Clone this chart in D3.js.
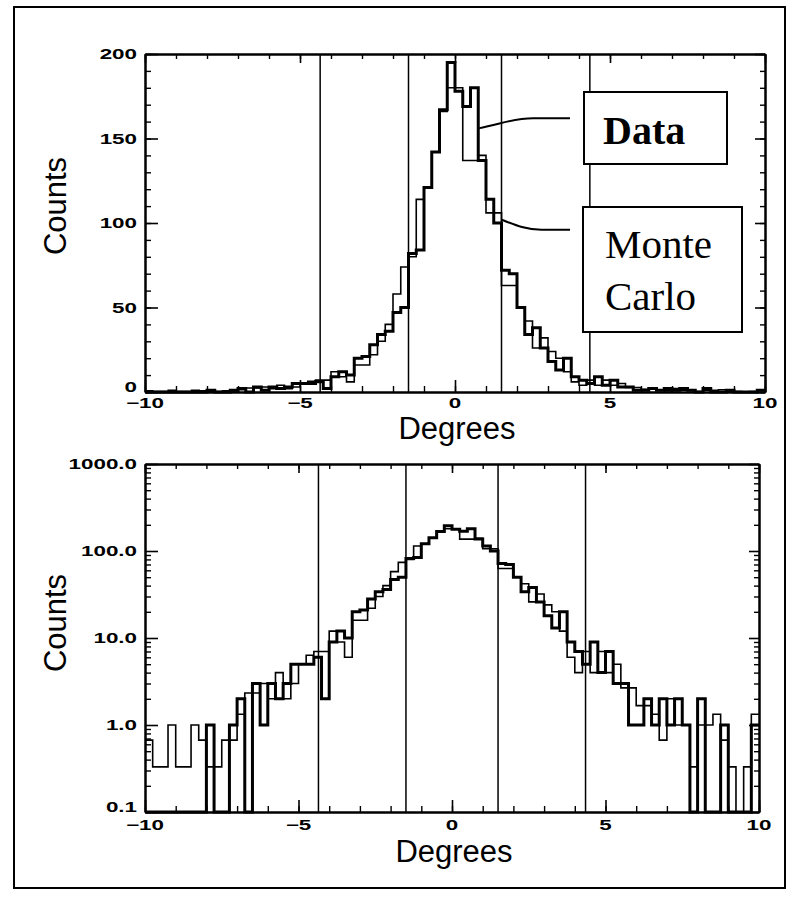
<!DOCTYPE html>
<html>
<head>
<meta charset="utf-8">
<script src="https://cdn.jsdelivr.net/npm/d3@7"></script>
<style>
  html, body { margin: 0; padding: 0; background: #fff; }
  svg { display: block; }
</style>
</head>
<body>
<div id="chart"></div>
<script>
// histogram bins: 0.25 degree wide, starting at -10
const binStart = -10;
const binWidth = 0.25;

const dataCounts = [
  0, 0, 0, 0, 0, 0, 0, 0, 1, 0,
  0, 1, 2, 0, 3, 1, 3, 2, 3, 5,
  5, 5, 6, 2, 9, 12, 10, 20, 21, 28,
  34, 36, 47, 50, 82, 84, 121, 142, 167, 195,
  178, 169, 180, 137, 114, 100, 72, 70, 50, 34,
  38, 26, 18, 13, 20, 9, 7, 5, 9, 4,
  7, 3, 3, 1, 1, 2, 1, 2, 1, 2,
  1, 0, 2, 0, 0, 1, 0, 0, 0, 1,
];

const monteCarloCounts = [
  0.67, 0.33, 0.33, 1, 0.33, 0.33, 1, 0.67, 0.33, 0.33,
  0.67, 0.67, 1.33, 2.33, 2.33, 3, 2, 4, 2, 3,
  5, 6.33, 7, 7, 12, 9, 6, 16, 16, 22,
  30, 40, 58, 74, 80, 114, 121, 142, 166, 180,
  180, 137, 137, 140, 106, 106, 63, 63, 50, 42,
  26, 32, 24, 20, 12, 6, 4, 7, 4, 7,
  4, 5, 2.67, 2.67, 1.67, 1.67, 1.33, 0.67, 2, 1,
  1, 0.33, 1, 1, 1.33, 0.67, 0.33, 0, 0.33, 1.33,
];

const cutLines = [-4.35, -1.5, 1.5, 4.35];
const degreeTicks = [-10, -5, 0, 5, 10];
const linearTicks = [0, 50, 100, 150, 200];
const logTicks = [0.1, 1, 10, 100, 1000];
const logTickLabels = ['0.1', '1.0', '10.0', '100.0', '1000.0'];
const legendLabels = [['Data'], ['Monte', 'Carlo']];

const totalWidth = 791;
const totalHeight = 900;
const tickFont = 'Liberation Sans, Arial, sans-serif';

const svg = d3
  .select('#chart')
  .append('svg')
  .attr('width', totalWidth)
  .attr('height', totalHeight);

// outer frame of the scanned figure
svg
  .append('rect')
  .attr('x', 14)
  .attr('y', 7)
  .attr('width', 771)
  .attr('height', 881)
  .attr('fill', 'none')
  .attr('stroke', '#000')
  .attr('stroke-width', 2);

const stepPoints = (values) =>
  values
    .map((v, i) => [binStart + i * binWidth, v])
    .concat([[binStart + values.length * binWidth, values[values.length - 1]]]);

// stretched tick label, like the old vector plotting font
const tickLabel = (g, x, y, text, anchor) =>
  g
    .append('text')
    .attr('transform', `translate(${x},${y}) scale(1.6,1)`)
    .attr('text-anchor', anchor)
    .attr('dy', '0.36em')
    .attr('font-family', tickFont)
    .attr('font-weight', 'bold')
    .attr('font-size', 14)
    .text(text);

const drawPanel = (opts) => {
  const { xScale, yScale, yMajor, yMinor, yLabels, floor, xLabelY, titleY, countsY } = opts;
  const [left, right] = xScale.range();
  const [bottom, top] = yScale.range();
  const g = svg.append('g');

  const axisStyle = (sel, width) =>
    sel.call((a) => a.selectAll('.tick line').attr('stroke-width', width))
      .call((a) => a.select('.domain').attr('stroke-width', 2));

  const xMinor = d3.range(-10, 11, 1);

  // bottom + top axes (ticks point inward)
  g.append('g').attr('transform', `translate(0,${bottom})`)
    .call(d3.axisBottom(xScale).tickValues(degreeTicks).tickSize(-12).tickSizeOuter(0).tickFormat(''))
    .call((a) => axisStyle(a, 1.6));
  g.append('g').attr('transform', `translate(0,${bottom})`)
    .call(d3.axisBottom(xScale).tickValues(xMinor).tickSize(-6).tickSizeOuter(0).tickFormat(''))
    .call((a) => axisStyle(a, 1.4));
  g.append('g').attr('transform', `translate(0,${top})`)
    .call(d3.axisTop(xScale).tickValues(degreeTicks).tickSize(-9).tickSizeOuter(0).tickFormat(''))
    .call((a) => axisStyle(a, 1.6));
  g.append('g').attr('transform', `translate(0,${top})`)
    .call(d3.axisTop(xScale).tickValues(xMinor).tickSize(-5).tickSizeOuter(0).tickFormat(''))
    .call((a) => axisStyle(a, 1.4));

  // left + right axes
  g.append('g').attr('transform', `translate(${left},0)`)
    .call(d3.axisLeft(yScale).tickValues(yMajor).tickSize(-13).tickSizeOuter(0).tickFormat(''))
    .call((a) => axisStyle(a, 1.6));
  g.append('g').attr('transform', `translate(${left},0)`)
    .call(d3.axisLeft(yScale).tickValues(yMinor).tickSize(-6).tickSizeOuter(0).tickFormat(''))
    .call((a) => axisStyle(a, 1.4));
  g.append('g').attr('transform', `translate(${right},0)`)
    .call(d3.axisRight(yScale).tickValues(yMajor).tickSize(-10).tickSizeOuter(0).tickFormat(''))
    .call((a) => axisStyle(a, 1.6));
  g.append('g').attr('transform', `translate(${right},0)`)
    .call(d3.axisRight(yScale).tickValues(yMinor).tickSize(-5).tickSizeOuter(0).tickFormat(''))
    .call((a) => axisStyle(a, 1.4));

  // tick labels (lowest one nudged up, clear of the x labels)
  yMajor.forEach((v, i) =>
    tickLabel(g, left - 8, yScale(v) - (i === 0 ? 5 : 0), yLabels[i], 'end')
  );
  degreeTicks.forEach((v) =>
    tickLabel(g, xScale(v), xLabelY, d3.format('')(v).replace('-', '\u2212'), 'middle')
  );

  // cut lines
  g.selectAll('.cut')
    .data(cutLines)
    .join('line')
    .attr('x1', (d) => xScale(d))
    .attr('x2', (d) => xScale(d))
    .attr('y1', top)
    .attr('y2', bottom)
    .attr('stroke', '#000')
    .attr('stroke-width', 1.5);

  // histograms
  const line = d3
    .line()
    .x((d) => xScale(d[0]))
    .y((d) => yScale(Math.max(d[1], floor)))
    .curve(d3.curveStepAfter);

  g.append('path')
    .attr('d', line(stepPoints(monteCarloCounts)))
    .attr('fill', 'none')
    .attr('stroke', '#000')
    .attr('stroke-width', 1.6);

  g.append('path')
    .attr('d', line(stepPoints(dataCounts)))
    .attr('fill', 'none')
    .attr('stroke', '#000')
    .attr('stroke-width', 3);

  // axis titles
  g.append('text')
    .attr('x', (left + right) / 2 + 2)
    .attr('y', titleY)
    .attr('text-anchor', 'middle')
    .attr('font-family', tickFont)
    .attr('font-size', 31)
    .text('Degrees');

  g.append('text')
    .attr('transform', `translate(66,${countsY}) rotate(-90)`)
    .attr('text-anchor', 'middle')
    .attr('font-family', tickFont)
    .attr('font-size', 31)
    .text('Counts');

  return g;
};

// top panel: linear counts
const xTop = d3.scaleLinear().domain([-10, 10]).range([145, 765]);
const yTop = d3.scaleLinear().domain([0, 200]).range([392, 54]);
drawPanel({
  xScale: xTop,
  yScale: yTop,
  yMajor: linearTicks,
  yMinor: d3.range(0, 201, 10),
  yLabels: linearTicks.map(String),
  floor: 0,
  xLabelY: 403,
  titleY: 439,
  countsY: 206,
});

// bottom panel: log counts
const xBottom = d3.scaleLinear().domain([-10, 10]).range([145, 759]);
const yBottom = d3.scaleLog().domain([0.1, 1000]).range([812, 464]);
const logMinor = [];
[0.1, 1, 10, 100].forEach((dec) => d3.range(2, 10).forEach((k) => logMinor.push(dec * k)));
drawPanel({
  xScale: xBottom,
  yScale: yBottom,
  yMajor: logTicks,
  yMinor: logMinor,
  yLabels: logTickLabels,
  floor: 0.1,
  xLabelY: 825,
  titleY: 862,
  countsY: 623,
});

// legend boxes with leader lines (top panel)
const legendBoxes = [
  { x: 584, y: 92, w: 143, h: 72 },
  { x: 583, y: 207, w: 159, h: 125 },
];
svg
  .selectAll('.legend-box')
  .data(legendBoxes)
  .join('rect')
  .attr('x', (d) => d.x)
  .attr('y', (d) => d.y)
  .attr('width', (d) => d.w)
  .attr('height', (d) => d.h)
  .attr('fill', '#fff')
  .attr('stroke', '#000')
  .attr('stroke-width', 2);

svg.append('text')
  .attr('x', 603)
  .attr('y', 144)
  .attr('font-family', 'Liberation Serif, Times New Roman, serif')
  .attr('font-weight', 'bold')
  .attr('font-size', 40)
  .text(legendLabels[0][0]);

legendLabels[1].forEach((word, i) =>
  svg.append('text')
    .attr('x', 605)
    .attr('y', 258 + i * 52)
    .attr('font-family', 'Liberation Serif, Times New Roman, serif')
    .attr('font-size', 41)
    .text(word)
);

// leaders: data points at the edge of a data bin, MC at an MC bin edge
const dataEdge = [xTop(0.75), yTop(156)];
const mcEdge = [xTop(1.5), yTop(102)];
svg.append('path')
  .attr('d', `M${dataEdge[0]},${dataEdge[1]} C${dataEdge[0] + 25},${dataEdge[1] - 5} ${dataEdge[0] + 35},${yTop(162)} ${dataEdge[0] + 55},${yTop(162)} L570,${yTop(162)}`)
  .attr('fill', 'none')
  .attr('stroke', '#000')
  .attr('stroke-width', 2);
svg.append('path')
  .attr('d', `M${mcEdge[0]},${mcEdge[1]} C${mcEdge[0] + 15},${mcEdge[1] + 6} ${mcEdge[0] + 25},${yTop(96)} ${mcEdge[0] + 40},${yTop(96)} L570,${yTop(96)}`)
  .attr('fill', 'none')
  .attr('stroke', '#000')
  .attr('stroke-width', 2);
</script>
</body>
</html>
